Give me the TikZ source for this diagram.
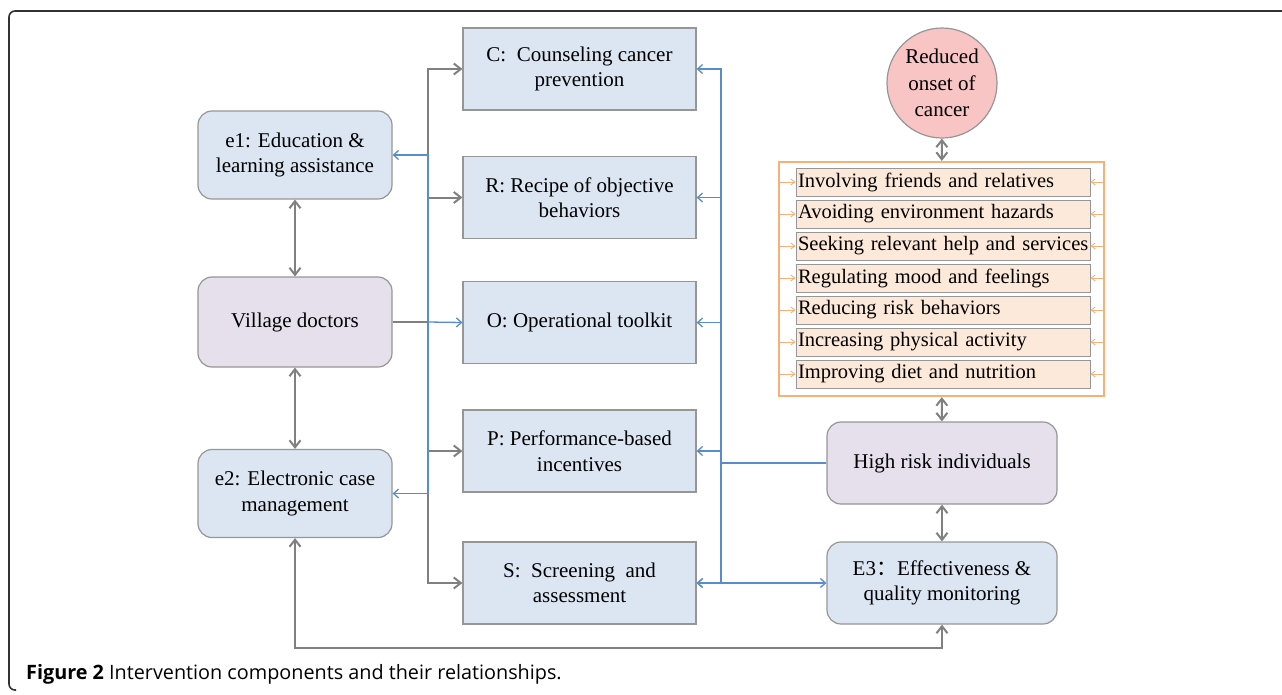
\documentclass[tikz,border=0pt]{standalone}
\usepackage{fontspec}
\setmainfont{Liberation Serif}
\newfontfamily\capfont{Open Sans}
\newfontfamily\cjk{Noto Sans CJK SC}
\usetikzlibrary{arrows.meta}

\definecolor{boxblue}{RGB}{220,230,242}
\definecolor{boxlilac}{RGB}{229,224,236}
\definecolor{boxpink}{RGB}{248,196,196}
\definecolor{boxpeach}{RGB}{253,233,217}
\definecolor{boxedge}{RGB}{150,150,150}
\definecolor{lineorange}{RGB}{247,176,120}
\definecolor{linegray}{RGB}{128,128,128}
\definecolor{lineblue}{RGB}{88,140,205}
\definecolor{framegray}{RGB}{50,50,50}

\tikzset{
  gtip/.tip={Straight Barb[length=7pt,width=11pt]},
  btip/.tip={Straight Barb[length=5pt,width=9pt]},
  otip/.tip={Straight Barb[length=4pt,width=6pt]},
  box/.style={draw=boxedge, line width=1.2, fill=boxblue, minimum width=233, minimum height=82,
    align=center, inner sep=2, font=\fontsize{21}{25.5}\selectfont},
  rbox/.style={box, rounded corners=14, minimum width=194, minimum height=88},
  item/.style={draw=boxedge, line width=1, fill=boxpeach, text width=290, inner xsep=2, inner ysep=0,
    minimum height=28, align=left, font=\fontsize{20.5}{24}\selectfont},
  gline/.style={draw=linegray, line width=2},
  garrow/.style={gline, -gtip},
  gboth/.style={gline, gtip-gtip},
  barrow/.style={draw=lineblue, line width=1.3, -btip},
  bboth/.style={draw=lineblue, line width=1.3, btip-btip},
  oarrow/.style={draw=lineorange, line width=0.9, -otip}
}

\begin{document}
\begin{tikzpicture}[x=1pt,y=1pt,yscale=-1]
  \useasboundingbox (0,0) rectangle (1282,694);

  % Figure frame
  \draw [framegray, line width=1.6, rounded corners=6] (1282,11) -- (9,11) -- (9,690) -- (16,690);

  % Left column
  \node [rbox] (e1) at (295,155) {e1: Education \&\\learning assistance};
  \node [rbox, fill=boxlilac, minimum height=90] (vill) at (295,322) {Village doctors};
  \node [rbox] (e2) at (295,493.5) {e2: Electronic case\\management};

  % Middle column
  \node [box] (C) at (579.5,69) {C:\ \ Counseling cancer\\prevention};
  \node [box] (R) at (579.5,197.5) {R: Recipe of objective\\behaviors};
  \node [box] (O) at (579.5,322.5) {O: Operational toolkit};
  \node [box] (P) at (579.5,451) {P: Performance-based\\incentives};
  \node [box] (S) at (579.5,583) {S:\ \ Screening\ \ and\\assessment};

  % Right column
  \node [circle, draw=boxedge, line width=1.2, fill=boxpink, minimum size=110, inner sep=0,
    align=center, font=\fontsize{21}{26.5}\selectfont] (goal) at (942,83) {Reduced\\onset of\\cancer};
  \node [draw=lineorange, line width=2.2, minimum width=325, minimum height=234] (habit) at (941.5,279) {};
  \foreach \t [count=\i] in {Involving friends and relatives, Avoiding environment hazards,
      Seeking relevant help and services, Regulating mood and feelings, Reducing risk behaviors,
      Increasing physical activity, Improving diet and nutrition} {
    \node [item] (it\i) at (943,150+32*\i) {\mbox{\t}};
    \draw [oarrow] (habit.west |- it\i) -- (it\i.west);
    \draw [oarrow] (habit.east |- it\i) -- (it\i.east);
  }
  \node [rbox, fill=boxlilac, minimum width=230, minimum height=82] (high) at (942,463) {High risk individuals};
  \node [rbox, minimum width=230, minimum height=82] (E3) at (942,583) {E3{\cjk ：}Effectiveness \&\\quality monitoring};

  % Bus points
  \coordinate (busL) at (428,322);
  \coordinate (busR) at (721,463);

  % Gray connectors
  \draw [gboth] (e1) -- (vill);
  \draw [gboth] (vill) -- (e2);
  \foreach \n in {C,R,P,S}
    \draw [garrow] (vill.east) -- (busL) |- (\n.west);
  \draw [gboth] (e2.south) -- ++(0,110) -| (E3.south);
  \draw [gboth] (goal) -- (habit);
  \draw [gboth] (habit) -- (high);
  \draw [gboth] (high) -- (E3);

  % Blue connectors
  \draw [barrow] (busL) -- (O.west);
  \draw [barrow] (busL) |- (e1.east);
  \draw [barrow] (busL) |- (e2.east);
  \foreach \n in {C,R,O,P,S}
    \draw [barrow] (high.west) -- (busR) |- (\n.east);
  \draw [bboth] (S.east) -- (E3.west);

  % Caption
  \node [anchor=base west, inner sep=0, font=\capfont\fontsize{19.8}{22}\selectfont] (cap) at (26,679)
    {\textbf{Figure 2} Intervention components and their relationships.};
\end{tikzpicture}
\end{document}
